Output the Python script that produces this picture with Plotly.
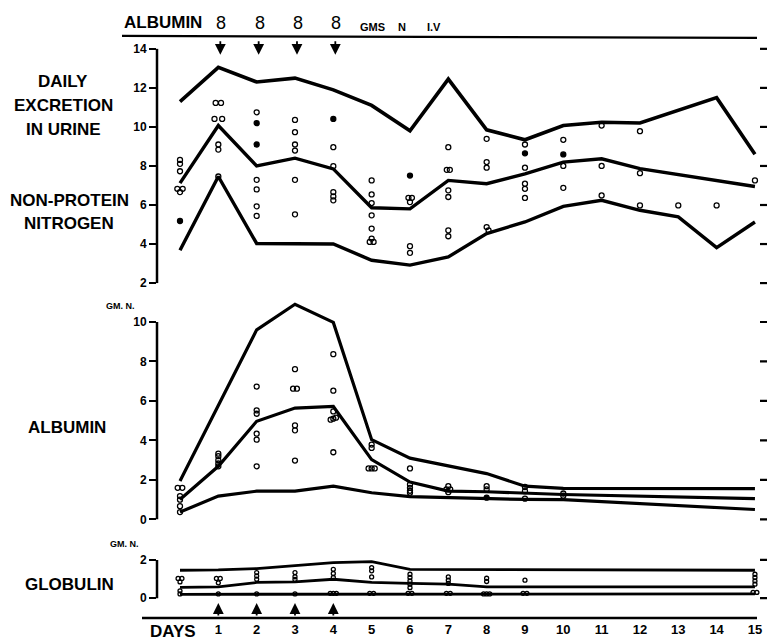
import plotly.graph_objects as go

# ---------------- DATA ----------------
# Non-protein nitrogen (top panel), gm N per day
npn_upper_days = [0, 1, 2, 3, 4, 5, 6, 7, 8, 9, 10, 11, 12, 14, 15]
npn_upper = [11.3, 13.05, 12.3, 12.5, 11.9, 11.1, 9.8, 12.45, 9.85, 9.34, 10.07, 10.24, 10.2, 11.5, 8.6]
npn_mid_days = [0, 1, 2, 3, 4, 5, 6, 7, 8, 9, 10, 11, 12, 15]
npn_mid = [7.12, 10.07, 8.0, 8.4, 7.85, 5.86, 5.8, 7.26, 7.09, 7.6, 8.2, 8.37, 7.86, 6.95]
npn_low_days = [0, 1, 2, 3, 4, 5, 6, 7, 8, 9, 10, 11, 12, 13, 14, 15]
npn_low = [3.68, 7.46, 4.03, 4.0, 4.0, 3.17, 2.92, 3.34, 4.54, 5.13, 5.93, 6.24, 5.73, 5.39, 3.82, 5.13]

npn_open_days = [0, 0, 0, -0.07, 0.07, 0,
                 0.93, 1.07, 0.9, 1.1, 1, 1, 1,
                 2, 2, 2, 2, 2,
                 3, 3, 3, 3, 3, 3,
                 4, 4, 4, 4, 4,
                 5, 5, 5, 5, 5, 5, 4.95, 5.05,
                 5.96, 6.05, 6, 6, 6,
                 7, 6.96, 7.04, 7, 7, 7, 7,
                 8, 8, 8, 8, 8.05,
                 9, 9, 9, 9, 9,
                 10, 10, 10,
                 11, 11, 11,
                 12, 12, 12,
                 13, 14, 15]
npn_open_vals = [8.31, 8.11, 7.73, 6.83, 6.83, 6.66,
                 11.23, 11.23, 10.41, 10.41, 9.1, 8.84, 7.46,
                 10.75, 7.29, 6.8, 5.93, 5.44,
                 10.36, 9.73, 9.1, 8.79, 7.29, 5.52,
                 8.96, 7.99, 6.66, 6.44, 6.24,
                 7.26, 6.54, 6.1, 5.47, 4.79, 4.28, 4.11, 4.11,
                 6.37, 6.37, 6.15, 3.89, 3.55,
                 8.96, 7.8, 7.8, 6.75, 6.41, 4.7, 4.4,
                 9.39, 8.2, 7.91, 4.87, 4.7,
                 9.1, 7.91, 7.09, 6.83, 6.36,
                 9.34, 8.0, 6.88,
                 10.07, 8.0, 6.49,
                 9.78, 7.63, 5.98,
                 5.98, 5.98, 7.26]
npn_solid_days = [0, 2, 2, 4, 6, 9, 10]
npn_solid_vals = [5.18, 10.19, 9.1, 10.41, 7.51, 8.65, 8.59]

# Albumin (middle panel), gm N
alb_upper_days = [0, 2, 3, 4, 5, 6, 8, 9, 10, 15]
alb_upper = [1.94, 9.6, 10.9, 9.98, 4.04, 3.1, 2.32, 1.68, 1.57, 1.56]
alb_mid_days = [0, 1, 2, 3, 4, 5, 6, 7, 8, 9, 10, 15]
alb_mid = [1.01, 2.69, 4.97, 5.64, 5.72, 3.03, 1.89, 1.43, 1.4, 1.31, 1.26, 1.05]
alb_low_days = [0, 1, 2, 3, 4, 5, 6, 7, 8, 9, 10, 15]
alb_low = [0.37, 1.18, 1.43, 1.43, 1.68, 1.35, 1.15, 1.1, 1.05, 1.01, 1.0, 0.5]

alb_open_days = [-0.06, 0.06, 0, 0, 0, 0,
                 1, 1, 1, 1, 1,
                 2, 2, 2, 2, 2, 2,
                 3, 2.95, 3.05, 3, 3, 3,
                 4, 4, 4, 3.93, 4.0, 4.07, 4,
                 5, 5, 4.92, 5, 5.08,
                 6, 6, 6, 6, 6,
                 7, 6.95, 7.05, 7,
                 8, 8,
                 9, 9, 9,
                 10, 10]
alb_open_vals = [1.6, 1.6, 1.18, 1.0, 0.67, 0.37,
                 3.33, 3.2, 3.0, 2.83, 2.69,
                 6.73, 5.52, 5.35, 4.34, 4.04, 2.69,
                 7.61, 6.62, 6.62, 4.76, 4.51, 2.98,
                 8.37, 6.52, 5.47, 5.05, 5.1, 5.15, 3.4,
                 3.79, 3.62, 2.58, 2.58, 2.58,
                 2.58, 1.77, 1.6, 1.45, 1.35,
                 1.68, 1.52, 1.52, 1.38,
                 1.68, 1.52,
                 1.64, 1.43, 1.05,
                 1.31, 1.2]
alb_solid_days = [8]
alb_solid_vals = [1.1]

# Globulin (bottom panel), gm N
glob_upper_days = [0, 1, 2, 3, 4, 5, 6, 15]
glob_upper = [1.46, 1.48, 1.55, 1.69, 1.86, 1.91, 1.51, 1.46]
glob_mid_days = [0, 1, 2, 3, 4, 5, 6, 7, 8, 15]
glob_mid = [0.56, 0.59, 0.82, 0.85, 0.99, 0.82, 0.77, 0.73, 0.59, 0.59]
glob_low_days = [0, 15]
glob_low = [0.2, 0.22]

glob_open_days = [-0.05, 0.05, 0, 0, 0,
                  0.95, 1.05, 1, 1,
                  2, 2, 2, 2,
                  3, 3, 3, 3,
                  4, 4, 4, 3.92, 4, 4.08,
                  5, 5, 5, 4.95, 5.05,
                  6, 6, 6, 6, 6, 5.95, 6.05,
                  7, 7, 7, 6.95, 7.05,
                  8, 8, 7.92, 8, 8.08,
                  9, 8.95, 9.05,
                  15, 15, 15, 15, 14.95, 15.05]
glob_open_vals = [1.03, 1.03, 0.85, 0.38, 0.22,
                  1.03, 1.03, 0.8, 0.22,
                  1.34, 1.16, 0.99, 0.22,
                  1.34, 1.12, 0.98, 0.22,
                  1.51, 1.29, 1.08, 0.25, 0.25, 0.25,
                  1.6, 1.43, 1.11, 0.25, 0.25,
                  1.25, 1.08, 0.9, 0.73, 0.55, 0.25, 0.25,
                  1.11, 0.94, 0.77, 0.25, 0.25,
                  1.04, 0.87, 0.22, 0.22, 0.22,
                  0.94, 0.25, 0.25,
                  1.25, 1.08, 0.9, 0.73, 0.3, 0.3]

dose_days = [1, 2, 3, 4]
dose_labels = ["8", "8", "8", "8"]
day_ticks = list(range(1, 16))
npn_ticks = [2, 4, 6, 8, 10, 12, 14]
alb_ticks = [0, 2, 4, 6, 8, 10]
glob_ticks = [0, 2]

# ---------------- LAYOUT HELPERS ----------------
W, H = 768, 640
FONT = "Liberation Sans"


def fx(p):
    return p / W


def fy(p):
    return 1 - p / H


X0PX, DXPX = 180.0, 38.33
AXPX = 157.0
RIGHTPX = 760.0


def xday(p):
    # pixel -> day units on the x axis (used for the decorative right-edge ticks)
    return (p - X0PX) / DXPX


fig = go.Figure()


def line(xs, ys, yax, w):
    fig.add_trace(go.Scatter(x=xs, y=ys, yaxis=yax, mode="lines",
                             line=dict(color="black", width=w), hoverinfo="skip",
                             showlegend=False))


def pts(xs, ys, yax, size, filled):
    fig.add_trace(go.Scatter(x=xs, y=ys, yaxis=yax, mode="markers",
                             marker=dict(symbol="circle" if filled else "circle-open",
                                         size=size, color="black",
                                         line=dict(color="black", width=1.3)),
                             hoverinfo="skip", showlegend=False))


line(npn_upper_days, npn_upper, "y", 3.6)
line(npn_mid_days, npn_mid, "y", 3.4)
line(npn_low_days, npn_low, "y", 3.4)
pts(npn_open_days, npn_open_vals, "y", 5, False)
pts(npn_solid_days, npn_solid_vals, "y", 5, True)

line(alb_upper_days, alb_upper, "y2", 3.2)
line(alb_mid_days, alb_mid, "y2", 3.2)
line(alb_low_days, alb_low, "y2", 3.2)
pts(alb_open_days, alb_open_vals, "y2", 5, False)
pts(alb_solid_days, alb_solid_vals, "y2", 5, True)

line(glob_upper_days, glob_upper, "y3", 2.8)
line(glob_mid_days, glob_mid, "y3", 2.8)
line(glob_low_days, glob_low, "y3", 2.8)
pts(glob_open_days, glob_open_vals, "y3", 4, False)

tickfont = dict(family=FONT, size=12, color="black", weight=700)


def yaxis(rng, dom, ticks):
    return dict(range=rng, domain=dom, tickvals=ticks, ticktext=[str(t) for t in ticks],
                ticks="outside", ticklen=7, tickwidth=2, tickcolor="black",
                showline=False, showgrid=False, zeroline=False,
                tickfont=tickfont, anchor="x", fixedrange=True)


# pixel calibrations: top v->48+19.58*(14-v); mid v->520-19.8v; bottom v->599-19.15v
top_rng = [1.6, 14.5]
top_dom = [fy(48 + 19.58 * (14 - 1.6)), fy(48 + 19.58 * (14 - 14.5))]
mid_rng = [-0.5, 11.3]
mid_dom = [fy(520 + 19.8 * 0.5), fy(520 - 19.8 * 11.3)]
bot_rng = [-0.3, 2.3]
bot_dom = [fy(599 + 19.15 * 0.3), fy(599 - 19.15 * 2.3)]

fig.update_layout(
    width=W, height=H, autosize=False,
    margin=dict(l=0, r=0, t=0, b=0, pad=0),
    paper_bgcolor="white", plot_bgcolor="white",
    showlegend=False,
    xaxis=dict(domain=[fx(AXPX), 1.0],
               range=[xday(AXPX), xday(W)],
               tickvals=day_ticks, ticktext=[str(d) for d in day_ticks],
               ticks="", showline=False, showgrid=False, zeroline=False,
               anchor="free", position=fy(621),
               tickfont=dict(family=FONT, size=13, color="black", weight=700),
               fixedrange=True),
    yaxis=yaxis(top_rng, top_dom, npn_ticks),
    yaxis2=yaxis(mid_rng, mid_dom, alb_ticks),
    yaxis3=yaxis(bot_rng, bot_dom, glob_ticks),
)

shapes = []
# y axis lines and right-edge tick marks
for yref, ticks in [("y", npn_ticks), ("y2", alb_ticks), ("y3", glob_ticks)]:
    shapes.append(dict(type="line", xref="paper", yref=yref, x0=fx(AXPX), x1=fx(AXPX),
                       y0=min(ticks), y1=max(ticks), line=dict(color="black", width=2.5)))
    for t in ticks:
        shapes.append(dict(type="line", xref="x", yref=yref, x0=xday(RIGHTPX),
                           x1=xday(RIGHTPX + 7), y0=t, y1=t, layer="above",
                           line=dict(color="black", width=2.2)))
# header rule and day-axis rule
shapes.append(dict(type="line", xref="paper", yref="paper", x0=fx(122), x1=fx(757),
                   y0=fy(35), y1=fy(37), line=dict(color="black", width=2.2)))
shapes.append(dict(type="line", xref="paper", yref="paper", x0=fx(142), x1=fx(757),
                   y0=fy(619), y1=fy(619), line=dict(color="black", width=2.5)))
fig.update_layout(shapes=shapes)

ann = []


def text(s, xp, ypx, size, xanchor="center"):
    ann.append(dict(text="<b>%s</b>" % s, xref="paper", yref="paper", x=fx(xp), y=fy(ypx),
                    xanchor=xanchor, yanchor="middle", showarrow=False,
                    font=dict(family=FONT, size=size, color="black")))


text("ALBUMIN", 163, 22, 17)
for d, lab in zip(dose_days, dose_labels):
    ann.append(dict(text=lab, xref="x", yref="paper", x=d, y=fy(22), xshift=3,
                    showarrow=False, xanchor="center", yanchor="middle",
                    font=dict(family=FONT, size=18, color="black")))
    # downward arrows under header
    ann.append(dict(text="", xref="x", yref="paper", x=d, y=fy(54), xshift=2,
                    showarrow=True, ax=0, ay=-15, arrowhead=2, arrowsize=1.2,
                    arrowwidth=1.8, arrowcolor="black"))
    # upward arrows above day axis
    ann.append(dict(text="", xref="x", yref="paper", x=d, y=fy(604),
                    showarrow=True, ax=0, ay=14, arrowhead=2, arrowsize=1.2,
                    arrowwidth=1.8, arrowcolor="black"))
text("GMS", 372, 26, 11)
text("N", 402, 26, 11)
text("I.V", 434, 26, 11)

text("DAILY", 63, 81, 17)
text("EXCRETION", 63, 105, 17)
text("IN URINE", 63, 129, 17)
text("NON-PROTEIN", 69, 200, 17)
text("NITROGEN", 69, 223, 17)
text("ALBUMIN", 67, 428, 17)
text("GLOBULIN", 69, 585, 17)
text("GM. N.", 120, 306, 9)
text("GM. N.", 124, 545, 9)
text("DAYS", 173, 632, 17)

fig.update_layout(annotations=ann)

fig.write_html("out.html")
